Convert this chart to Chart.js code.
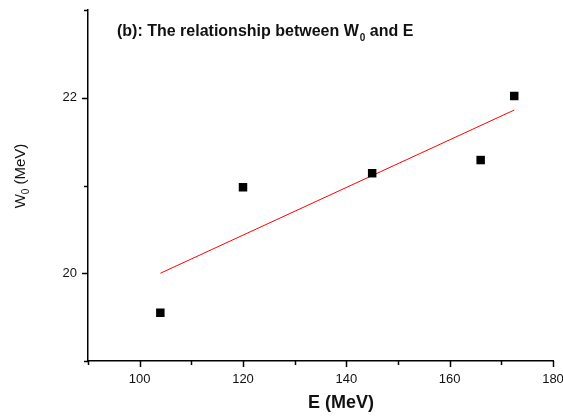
<!DOCTYPE html>
<html lang="en">
<head>
  <meta charset="UTF-8">
  <title>W0 vs E</title>
  <script src="https://cdn.jsdelivr.net/npm/chart.js"></script>
  <style>
    body {
      margin: 0;
      background: #ffffff;
    }
    .wrap {
      width: 563px;
      height: 416px;
    }
  </style>
</head>
<body>
  <div class="wrap">
    <canvas id="w0Chart" width="563" height="416"></canvas>
  </div>

  <script>
    // data
    const energy = [104, 120, 145, 166, 172.5];
    const w0 = [19.55, 20.98, 21.14, 21.29, 22.02];

    // linear fit line (end points)
    const fitE = [104, 172.5];
    const fitW = [20.0, 21.86];

    const xMajor = [100, 120, 140, 160, 180];
    const yMajor = [20, 22];

    const titleText = ['(b): The relationship between W', '0', ' and E'];

    // minor ticks + titles drawn on the canvas
    const extras = {
      id: 'extras',
      afterDraw(chart) {
        const ctx = chart.ctx;
        const xs = chart.scales.x;
        const ys = chart.scales.y;
        const area = chart.chartArea;
        ctx.save();
        ctx.strokeStyle = '#000';
        ctx.lineWidth = 1.5;

        // x ticks
        for (let v = 90; v <= 180; v += 10) {
          const px = Math.round(xs.getPixelForValue(v)) + 0.5;
          const len = xMajor.includes(v) ? 6 : 4;
          ctx.beginPath();
          ctx.moveTo(px, area.bottom);
          ctx.lineTo(px, area.bottom + len);
          ctx.stroke();
        }
        // y ticks
        for (let v = 19; v <= 23; v += 1) {
          const py = Math.round(ys.getPixelForValue(v)) + 0.5;
          const len = yMajor.includes(v) ? 6 : 4;
          ctx.beginPath();
          ctx.moveTo(area.left, py);
          ctx.lineTo(area.left - len, py);
          ctx.stroke();
        }

        ctx.fillStyle = '#111';
        ctx.textBaseline = 'alphabetic';

        // title inside the plot
        ctx.font = 'bold 16px "Liberation Sans", Arial, sans-serif';
        let tx = 117;
        const ty = 36;
        ctx.fillText(titleText[0], tx, ty);
        tx += ctx.measureText(titleText[0]).width + 1;
        ctx.font = 'bold 10px "Liberation Sans", Arial, sans-serif';
        ctx.fillText(titleText[1], tx, ty + 5);
        tx += ctx.measureText(titleText[1]).width;
        ctx.font = 'bold 16px "Liberation Sans", Arial, sans-serif';
        ctx.fillText(titleText[2], tx, ty);

        // x title
        ctx.font = 'bold 18px "Liberation Sans", Arial, sans-serif';
        ctx.textAlign = 'center';
        ctx.fillText('E (MeV)', 341, 408);

        // y title (rotated, with subscript)
        ctx.translate(25, 176);
        ctx.rotate(-Math.PI / 2);
        ctx.textAlign = 'left';
        const partA = 'W', partB = '0', partC = ' (MeV)';
        ctx.font = '15px "Liberation Sans", Arial, sans-serif';
        const wA = ctx.measureText(partA).width;
        const wC = ctx.measureText(partC).width;
        ctx.font = '10px "Liberation Sans", Arial, sans-serif';
        const wB = ctx.measureText(partB).width;
        let sx = -(wA + wB + wC) / 2;
        ctx.font = '15px "Liberation Sans", Arial, sans-serif';
        ctx.fillText(partA, sx, 0);
        sx += wA;
        ctx.font = '10px "Liberation Sans", Arial, sans-serif';
        ctx.fillText(partB, sx, 4);
        sx += wB;
        ctx.font = '15px "Liberation Sans", Arial, sans-serif';
        ctx.fillText(partC, sx, 0);
        ctx.restore();
      }
    };

    new Chart(document.getElementById('w0Chart'), {
      type: 'scatter',
      data: {
        datasets: [
          {
            label: 'W0',
            data: energy.map((e, i) => ({ x: e, y: w0[i] })),
            pointStyle: 'rect',
            pointRadius: 6,
            backgroundColor: '#000',
            borderColor: '#000',
            borderWidth: 0
          },
          {
            label: 'fit',
            type: 'line',
            data: fitE.map((e, i) => ({ x: e, y: fitW[i] })),
            borderColor: '#ff0000',
            borderWidth: 1,
            pointRadius: 0,
            fill: false
          }
        ]
      },
      options: {
        responsive: false,
        animation: false,
        layout: {
          padding: { top: 10, right: 10, left: 0, bottom: 0 }
        },
        plugins: {
          legend: { display: false },
          tooltip: { enabled: false }
        },
        scales: {
          x: {
            type: 'linear',
            min: 90,
            max: 180,
            afterFit(scale) {
              scale.height = 55;
              scale.paddingLeft = 0;
              scale.paddingRight = 0;
            },
            afterBuildTicks(scale) {
              scale.ticks = xMajor.map(v => ({ value: v }));
            },
            border: { display: true, color: '#000', width: 1.5 },
            grid: { display: false },
            ticks: {
              color: '#111',
              font: { family: '"Liberation Sans", Arial, sans-serif', size: 13 },
              padding: 3,
              maxRotation: 0
            }
          },
          y: {
            min: 19,
            max: 23,
            afterFit(scale) {
              scale.width = 88;
              scale.paddingTop = 0;
              scale.paddingBottom = 0;
            },
            afterBuildTicks(scale) {
              scale.ticks = yMajor.map(v => ({ value: v }));
            },
            border: { display: true, color: '#000', width: 1.5 },
            grid: { display: false },
            ticks: {
              color: '#111',
              font: { family: '"Liberation Sans", Arial, sans-serif', size: 13 },
              padding: 3
            }
          }
        }
      },
      plugins: [extras]
    });
  </script>
</body>
</html>
